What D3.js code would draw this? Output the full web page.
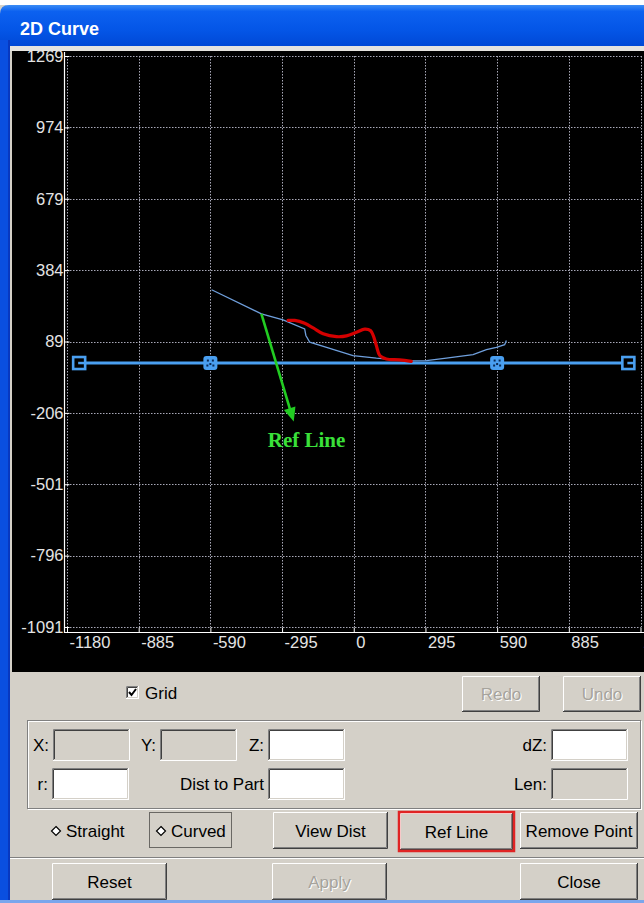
<!DOCTYPE html>
<html>
<head>
<meta charset="utf-8">
<script src="https://cdn.jsdelivr.net/npm/d3@7"></script>
<style>
html,body{margin:0;padding:0;background:#fff;overflow:hidden;}
svg{display:block;}
</style>
</head>
<body>
<script>
// ---------- data ----------
const xTicks = [-1180, -885, -590, -295, 0, 295, 590, 885, 1180];
const yTicks = [1269, 974, 679, 384, 89, -206, -501, -796, -1091];

const refLineX = [-1130, -590, 590, 1130];
const refLineY = [0, 0, 0, 0];
const refMarkerKind = ["end", "mid", "mid", "end"];

const curveX = [-585, -380, -291, -202, -197, -181, -112, -3, 93, 175, 244, 299, 381, 491, 546, 587, 621, 628];
const curveY = [303, 203, 178, 141, 114, 86, 65, 31, 20, 13, 9, 10, 20, 35, 55, 65, 76, 93];

const redX = [-270, -243, -202, -167, -126, -71, -30, 11, 45, 69, 80, 93, 107, 134, 189, 237];
const redY = [176, 176, 164, 145, 121, 109, 112, 127, 140, 134, 114, 72, 31, 17, 13, 7];

const arrowX = [-380, -247];
const arrowY = [203, -242];
const annotationText = "Ref Line";
const annotationAt = [-354, -349];

const titleText = "2D Curve";

// ---------- setup ----------
const W = 644, H = 903;
const SANS = "'Liberation Sans', Arial, sans-serif";
const SERIF = "'Liberation Serif', 'Times New Roman', serif";
const svg = d3.select("body").append("svg").attr("width", W).attr("height", H)
  .style("font-family", SANS);

const x = d3.scaleLinear().domain([-1180, 1180]).range([67, 640.5]);
const y = d3.scaleLinear().domain([-1091, 1269]).range([627, 56]);

// window background
svg.append("rect").attr("width", W).attr("height", H).attr("fill", "#d4d0c8");

// title bar
const defs = svg.append("defs");
const tg = defs.append("linearGradient").attr("id", "tb").attr("x1", 0).attr("x2", 0).attr("y1", 0).attr("y2", 1);
tg.append("stop").attr("offset", "0").attr("stop-color", "#3b8cf5");
tg.append("stop").attr("offset", "0.15").attr("stop-color", "#0c61f0");
tg.append("stop").attr("offset", "0.6").attr("stop-color", "#0455e6");
tg.append("stop").attr("offset", "1").attr("stop-color", "#0047d4");
svg.append("rect").attr("x", 0).attr("y", 0).attr("width", W).attr("height", 5).attr("fill", "#ffffff");
svg.append("path").attr("d", "M0,48 L0,14 Q0,5 9,5 L644,5 L644,48 Z").attr("fill", "url(#tb)");
svg.append("text").attr("x", 20).attr("y", 35).attr("fill", "#ffffff")
  .attr("font-size", 18).attr("font-weight", "bold").text(titleText);

// left / bottom frame
svg.append("rect").attr("x", 0).attr("y", 40).attr("width", 10).attr("height", H - 40).attr("fill", "#0a4fe0");
svg.append("rect").attr("x", 8).attr("y", 40).attr("width", 2).attr("height", H - 40).attr("fill", "#0838c0");
svg.append("rect").attr("x", 0).attr("y", 900).attr("width", W).attr("height", 3).attr("fill", "#7aa6ec");
svg.append("rect").attr("x", 10).attr("y", 46).attr("width", W - 10).attr("height", 5).attr("fill", "#e6e4e0");

// plot area
svg.append("rect").attr("x", 12).attr("y", 51).attr("width", W - 12).attr("height", 621).attr("fill", "#000000");

const plot = svg.append("g");

// grid
plot.append("g").selectAll("line").data(xTicks).join("line")
  .attr("x1", d => Math.round(x(d)) + 0.5).attr("x2", d => Math.round(x(d)) + 0.5)
  .attr("y1", y(1269)).attr("y2", y(-1091))
  .attr("stroke", "#a9a9b8").attr("stroke-width", 1).attr("stroke-dasharray", "1.5,1.5");
plot.append("g").selectAll("line").data(yTicks).join("line")
  .attr("y1", d => Math.round(y(d)) + 0.5).attr("y2", d => Math.round(y(d)) + 0.5)
  .attr("x1", x(-1180)).attr("x2", x(1180))
  .attr("stroke", "#a9a9b8").attr("stroke-width", 1).attr("stroke-dasharray", "1.5,1.5");

// axes
const fmt = d => String(d);
const yAxis = d3.axisLeft(y).tickValues(yTicks).tickSize(-5).tickSizeOuter(0).tickPadding(1).tickFormat(fmt);
const gy = plot.append("g").attr("transform", "translate(64.5,0)").call(yAxis);
gy.select(".domain").remove();
gy.selectAll(".tick line").attr("stroke", "#ffffff");
gy.selectAll(".tick text").attr("fill", "#e4e4e4").style("font-size", "16.5px")
  .style("font-family", SANS);

const xAxis = d3.axisBottom(x).tickValues(xTicks).tickSize(-5).tickSizeOuter(0).tickPadding(4).tickFormat(fmt);
const gx = plot.append("g").attr("transform", "translate(0,632.5)").call(xAxis);
gx.select(".domain").remove();
gx.selectAll(".tick line").attr("stroke", "#ffffff");
gx.selectAll(".tick text").attr("fill", "#e4e4e4").style("font-size", "16.5px")
  .attr("text-anchor", "start").attr("dx", 2).style("font-family", SANS);

plot.append("line").attr("x1", 64.5).attr("x2", 64.5).attr("y1", 52).attr("y2", 633)
  .attr("stroke", "#ffffff").attr("stroke-width", 1.2);
plot.append("line").attr("x1", 64).attr("x2", W).attr("y1", 632.5).attr("y2", 632.5)
  .attr("stroke", "#ffffff").attr("stroke-width", 1.2);

// ref line
const refPts = refLineX.map((d, i) => [d, refLineY[i]]);
plot.append("line")
  .attr("x1", x(refLineX[0])).attr("x2", x(refLineX[refLineX.length - 1]))
  .attr("y1", y(refLineY[0])).attr("y2", y(refLineY[refLineY.length - 1]))
  .attr("stroke", "#4a9ff0").attr("stroke-width", 3);

// thin blue curve
const line = d3.line().x(d => x(d[0])).y(d => y(d[1]));
plot.append("path").datum(curveX.map((d, i) => [d, curveY[i]]))
  .attr("d", line).attr("fill", "none").attr("stroke", "#6f9fdc").attr("stroke-width", 1.3);

// red curve
plot.append("path").datum(redX.map((d, i) => [d, redY[i]]))
  .attr("d", d3.line().curve(d3.curveCatmullRom).x(d => x(d[0])).y(d => y(d[1])))
  .attr("fill", "none").attr("stroke", "#d40000").attr("stroke-width", 3.2)
  .attr("stroke-linejoin", "round").attr("stroke-linecap", "round");

// markers
const mk = plot.append("g").selectAll("g").data(refPts).join("g")
  .attr("transform", d => `translate(${x(d[0])},${y(d[1])})`);
mk.each(function (d, i) {
  const g = d3.select(this);
  if (refMarkerKind[i] === "end") {
    g.append("rect").attr("x", -6).attr("y", -6).attr("width", 12).attr("height", 12)
      .attr("fill", "#000").attr("stroke", "#4a9ff0").attr("stroke-width", 2.6);
    g.append("line").attr("x1", -1).attr("x2", 6).attr("y1", 0).attr("y2", 0)
      .attr("stroke", "#4a9ff0").attr("stroke-width", 2.5);
  } else {
    g.append("rect").attr("x", -7).attr("y", -7).attr("width", 14).attr("height", 14).attr("rx", 3)
      .attr("fill", "#4a9ff0");
    [[-2.5, -2.5], [2.5, -2.5], [-3, 2.5], [3, 2.5], [0, 1]].forEach(p => {
      g.append("rect").attr("x", p[0] - 1).attr("y", p[1] - 1).attr("width", 2).attr("height", 2).attr("fill", "#0b2a55");
    });
  }
});

// green arrow annotation
const ax0 = x(arrowX[0]), ay0 = y(arrowY[0]), ax1 = x(arrowX[1]), ay1 = y(arrowY[1]);
const len = Math.hypot(ax1 - ax0, ay1 - ay0);
const ux = (ax1 - ax0) / len, uy = (ay1 - ay0) / len;
const bx = ax1 - ux * 14, by = ay1 - uy * 14;
plot.append("line").attr("x1", ax0).attr("y1", ay0).attr("x2", bx + ux * 2).attr("y2", by + uy * 2)
  .attr("stroke", "#22cc22").attr("stroke-width", 2.6);
plot.append("path")
  .attr("d", `M${ax1},${ay1} L${bx - uy * 6},${by + ux * 6} L${bx + uy * 6},${by - ux * 6} Z`)
  .attr("fill", "#22cc22");
plot.append("text").attr("x", x(annotationAt[0])).attr("y", y(annotationAt[1]))
  .attr("fill", "#3ae03a").style("font-size", "21px").style("font-weight", "bold")
  .style("font-family", SERIF).text(annotationText);

// ---------- controls panel ----------
const ui = svg.append("g").style("font-size", "17px");

function button(x0, y0, w, h, label, opts = {}) {
  const g = ui.append("g");
  g.append("rect").attr("x", x0).attr("y", y0).attr("width", w).attr("height", h).attr("fill", "#d4d0c8");
  g.append("path").attr("d", `M${x0 + 0.5},${y0 + h - 1} V${y0 + 0.5} H${x0 + w - 1}`).attr("stroke", "#ffffff").attr("fill", "none");
  g.append("path").attr("d", `M${x0},${y0 + h - 0.5} H${x0 + w - 0.5} V${y0}`).attr("stroke", "#404040").attr("fill", "none");
  g.append("path").attr("d", `M${x0 + 1},${y0 + h - 1.5} H${x0 + w - 1.5} V${y0 + 1}`).attr("stroke", "#808080").attr("fill", "none");
  if (opts.red) {
    g.append("rect").attr("x", x0 - 1).attr("y", y0 - 1).attr("width", w + 2).attr("height", h + 2)
      .attr("fill", "none").attr("stroke", "#e02424").attr("stroke-width", 2.5);
  }
  const cx = x0 + w / 2, cy = y0 + h / 2 + 6;
  if (opts.disabled) {
    g.append("text").attr("x", cx + 1).attr("y", cy + 1).attr("text-anchor", "middle").attr("fill", "#ffffff").text(label);
    g.append("text").attr("x", cx).attr("y", cy).attr("text-anchor", "middle").attr("fill", "#a6a39c").text(label);
  } else {
    g.append("text").attr("x", cx).attr("y", cy).attr("text-anchor", "middle").attr("fill", "#000").text(label);
  }
}

function field(x0, y0, w, h, fill) {
  const g = ui.append("g");
  g.append("rect").attr("x", x0).attr("y", y0).attr("width", w).attr("height", h).attr("fill", fill);
  g.append("path").attr("d", `M${x0 + 0.5},${y0 + h} V${y0 + 0.5} H${x0 + w}`).attr("stroke", "#808080").attr("fill", "none");
  g.append("path").attr("d", `M${x0 + 1.5},${y0 + h - 1} V${y0 + 1.5} H${x0 + w - 1}`).attr("stroke", "#404040").attr("fill", "none");
  g.append("path").attr("d", `M${x0},${y0 + h - 0.5} H${x0 + w - 0.5} V${y0}`).attr("stroke", "#ffffff").attr("fill", "none");
  g.append("path").attr("d", `M${x0 + 1},${y0 + h - 1.5} H${x0 + w - 1.5} V${y0 + 1}`).attr("stroke", "#d4d0c8").attr("fill", "none");
}

function label(x0, yb, t, anchor = "start", color = "#000") {
  ui.append("text").attr("x", x0).attr("y", yb).attr("text-anchor", anchor).attr("fill", color).text(t);
}

function etchedRect(x0, y0, w, h) {
  ui.append("rect").attr("x", x0 + 1.5).attr("y", y0 + 1.5).attr("width", w).attr("height", h).attr("fill", "none").attr("stroke", "#ffffff");
  ui.append("rect").attr("x", x0 + 0.5).attr("y", y0 + 0.5).attr("width", w).attr("height", h).attr("fill", "none").attr("stroke", "#808080");
}

// Grid checkbox
field(126, 686, 13, 13, "#ffffff");
ui.append("path").attr("d", "M129,692 L131.5,695 L136,689").attr("stroke", "#000").attr("stroke-width", 2).attr("fill", "none");
label(145, 699, "Grid");

button(462, 676, 78, 36, "Redo", { disabled: true });
button(563, 676, 78, 36, "Undo", { disabled: true });

// group box
etchedRect(27, 720, 613, 88);

label(49, 751, "X:", "end");
field(53, 729, 77, 32, "#d4d0c8");
label(156, 751, "Y:", "end");
field(160, 729, 77, 32, "#d4d0c8");
label(264, 751, "Z:", "end");
field(268, 729, 77, 32, "#ffffff");
label(547, 751, "dZ:", "end");
field(551, 729, 77, 32, "#ffffff");

label(48, 790, "r:", "end");
field(52, 768, 77, 32, "#ffffff");
label(264, 790, "Dist to Part", "end");
field(268, 768, 77, 32, "#ffffff");
label(547, 790, "Len:", "end");
field(551, 768, 77, 32, "#d4d0c8");

// radio options
function radio(cx, cy) {
  ui.append("path").attr("d", `M${cx},${cy - 4.5} L${cx + 4.5},${cy} L${cx},${cy + 4.5} L${cx - 4.5},${cy} Z`)
    .attr("fill", "#ffffff").attr("stroke", "#000").attr("stroke-width", 1.2);
}
radio(56, 831);
label(66, 837, "Straight");
radio(161, 831);
label(171, 837, "Curved");
ui.append("rect").attr("x", 149.5).attr("y", 812.5).attr("width", 82).attr("height", 35)
  .attr("fill", "none").attr("stroke", "#000").attr("stroke-dasharray", "1,1");

button(273, 812, 115, 37, "View Dist");
button(400, 813, 113, 37, "Ref  Line", { red: true });
button(520, 812, 118, 37, "Remove Point");

// separator
ui.append("line").attr("x1", 10).attr("x2", W).attr("y1", 857.5).attr("y2", 857.5).attr("stroke", "#808080");
ui.append("line").attr("x1", 10).attr("x2", W).attr("y1", 858.5).attr("y2", 858.5).attr("stroke", "#ffffff");

button(52, 863, 115, 37, "Reset");
button(272, 863, 115, 37, "Apply", { disabled: true });
button(520, 863, 118, 37, "Close");
</script>
</body>
</html>
